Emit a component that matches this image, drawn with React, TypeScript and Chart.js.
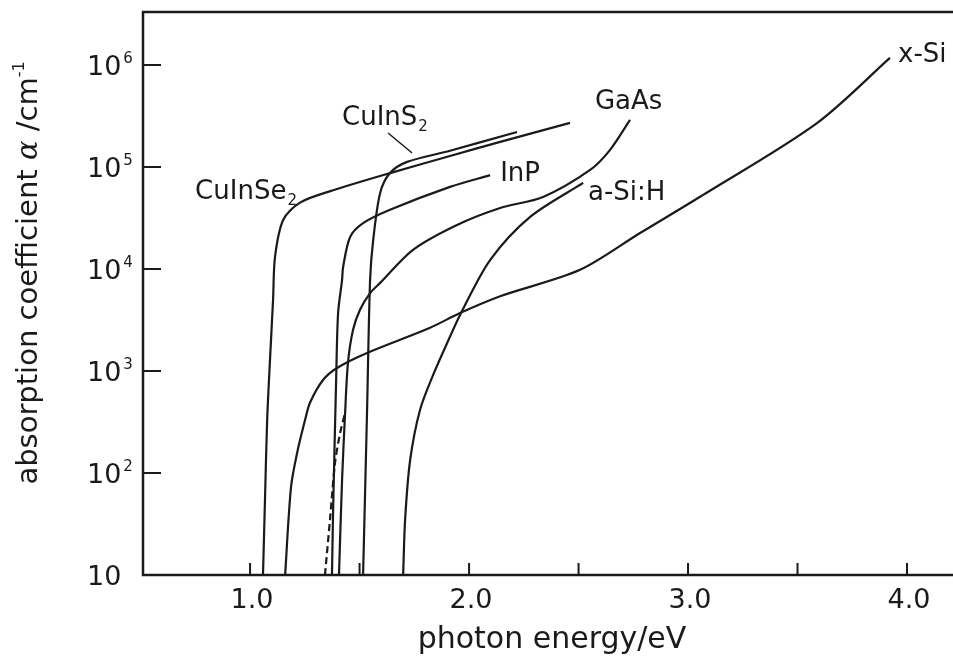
import React, { useEffect, useRef } from "react";
import { Chart, registerables } from "chart.js";

Chart.register(...registerables);

// ---- axes ----
const xMin = 0.511;
const xMax = 4.21;
const yMin = 10;
const yMax = 3.3e6;
const xTickValues = [1.0, 1.5, 2.0, 2.5, 3.0, 3.5, 4.0];
const xTickLabels = ["1.0", "", "2.0", "", "3.0", "", "4.0"];
const yTickValues = [10, 1e2, 1e3, 1e4, 1e5, 1e6];
const yTickBase = ["10", "10", "10", "10", "10", "10"];
const yTickExp = ["", "2", "3", "4", "5", "6"];

// ---- series (photon energy eV, absorption coefficient cm^-1) ----
const cuInSe2E = [1.059, 1.068, 1.078, 1.091, 1.105, 1.114, 1.151, 1.228, 1.379, 1.639, 1.913, 2.142, 2.461];
const cuInSe2A = [10, 54, 330, 1290, 5000, 13200, 30200, 44700, 59000, 87000, 128000, 176000, 270000];

const cuInS2E = [1.516, 1.534, 1.548, 1.562, 1.594, 1.639, 1.717, 1.913, 2.219];
const cuInS2A = [10, 390, 7760, 19000, 55600, 87000, 112000, 144000, 220000];

const inPE = [1.374, 1.379, 1.393, 1.402, 1.42, 1.425, 1.457, 1.516, 1.639, 1.913, 2.096];
const inPA = [10, 41, 815, 3720, 7760, 10500, 20600, 28100, 38000, 63700, 83000];

const gaAsE = [1.406, 1.42, 1.434, 1.447, 1.47, 1.502, 1.548, 1.594, 1.744, 1.945, 2.142, 2.338, 2.553, 2.644, 2.735];
const gaAsA = [10, 85, 390, 1200, 2520, 3980, 5800, 7300, 15400, 27000, 39600, 50800, 93500, 147000, 289000];

const gaAsDashE = [1.342, 1.365, 1.388, 1.411, 1.434];
const gaAsDashA = [10, 35, 126, 245, 390];

const aSiE = [1.699, 1.708, 1.731, 1.776, 1.836, 1.9, 1.959, 2.096, 2.279, 2.521];
const aSiA = [10, 35, 134, 415, 915, 1880, 3540, 12200, 32400, 69700];

const xSiE = [1.16, 1.187, 1.215, 1.251, 1.274, 1.333, 1.397, 1.534, 1.822, 1.959, 2.142, 2.507, 2.781, 3.055, 3.589, 3.922];
const xSiA = [10, 73, 158, 330, 490, 815, 1070, 1500, 2650, 3700, 5400, 9800, 22500, 51000, 269000, 1170000];

// ---- curve labels (position in data units: left edge energy, vertical centre alpha) ----
const labelText = ["CuInSe", "CuInS", "InP", "GaAs", "a-Si:H", "x-Si"];
const labelSub = ["2", "2", "", "", "", ""];
const labelE = [0.749, 1.42, 2.142, 2.575, 2.543, 3.959];
const labelA = [59600, 316000, 89300, 454000, 58200, 1310000];
const pointerE = [1.63, 1.74];
const pointerA = [215000, 137000];

const INK = "#1a1a1a";
const FONT = "'DejaVu Sans', sans-serif";

function pts(e: number[], a: number[]) {
  return e.map((v, i) => ({ x: v, y: a[i] }));
}

const decor = {
  id: "decor",
  afterDatasetsDraw(chart: any) {
    const { ctx, chartArea: ca, scales } = chart;
    const xs = scales.x;
    const ys = scales.y;
    ctx.save();
    ctx.strokeStyle = INK;
    ctx.fillStyle = INK;
    ctx.lineCap = "butt";
    // frame
    ctx.lineWidth = 2.5;
    ctx.beginPath();
    ctx.moveTo(ca.right, ca.top);
    ctx.lineTo(ca.left, ca.top);
    ctx.lineTo(ca.left, ca.bottom);
    ctx.lineTo(ca.right, ca.bottom);
    ctx.stroke();
    // inward ticks
    ctx.lineWidth = 2;
    ctx.beginPath();
    xTickValues.forEach((v) => {
      const px = xs.getPixelForValue(v);
      ctx.moveTo(px, ca.bottom);
      ctx.lineTo(px, ca.bottom - 12);
    });
    yTickValues.forEach((v) => {
      if (v <= yMin) return;
      const py = ys.getPixelForValue(v);
      ctx.moveTo(ca.left, py);
      ctx.lineTo(ca.left + 18, py);
    });
    ctx.stroke();

    // x tick labels
    ctx.font = `27px ${FONT}`;
    ctx.textAlign = "center";
    ctx.textBaseline = "alphabetic";
    xTickValues.forEach((v, i) => {
      if (!xTickLabels[i]) return;
      ctx.fillText(xTickLabels[i], xs.getPixelForValue(v) + 2, ca.bottom + 33);
    });

    // y tick labels with superscripts
    yTickValues.forEach((v, i) => {
      const py = ys.getPixelForValue(v);
      ctx.font = `27px ${FONT}`;
      ctx.textAlign = "left";
      ctx.textBaseline = "alphabetic";
      const bx = 87;
      ctx.fillText(yTickBase[i], bx, py + 10);
      const w = ctx.measureText(yTickBase[i]).width;
      if (yTickExp[i]) {
        ctx.font = `15px ${FONT}`;
        ctx.fillText(yTickExp[i], bx + w + 2, py - 2);
      }
    });

    // x title
    ctx.font = `30px ${FONT}`;
    ctx.textAlign = "center";
    ctx.fillText("photon energy/eV", 552, 648);

    // y title (rotated)
    ctx.save();
    ctx.translate(37, 273);
    ctx.rotate(-Math.PI / 2);
    const segs: [string, string, number][] = [
      ["absorption coefficient ", `29px ${FONT}`, 0],
      ["\u03b1", `italic 29px 'DejaVu Serif', serif`, 0],
      [" /cm", `29px ${FONT}`, 0],
      ["-1", `16px ${FONT}`, -13],
    ];
    let total = 0;
    segs.forEach(([t, f]) => {
      ctx.font = f;
      total += ctx.measureText(t).width;
    });
    let cx = -total / 2;
    ctx.textAlign = "left";
    segs.forEach(([t, f, dy]) => {
      ctx.font = f;
      ctx.fillText(t, cx, dy);
      cx += ctx.measureText(t).width;
    });
    ctx.restore();

    // curve labels
    labelText.forEach((t, i) => {
      const px = xs.getPixelForValue(labelE[i]);
      const py = ys.getPixelForValue(labelA[i]);
      ctx.font = `26px ${FONT}`;
      ctx.textAlign = "left";
      ctx.textBaseline = "alphabetic";
      ctx.fillText(t, px, py + 9);
      if (labelSub[i]) {
        const w = ctx.measureText(t).width;
        ctx.font = `15px ${FONT}`;
        ctx.fillText(labelSub[i], px + w + 1, py + 15);
      }
    });

    // pointer for CuInS2
    ctx.lineWidth = 1.5;
    ctx.beginPath();
    ctx.moveTo(xs.getPixelForValue(pointerE[0]), ys.getPixelForValue(pointerA[0]));
    ctx.lineTo(xs.getPixelForValue(pointerE[1]), ys.getPixelForValue(pointerA[1]));
    ctx.stroke();
    ctx.restore();
  },
};

export default function App() {
  const ref = useRef<HTMLCanvasElement | null>(null);
  useEffect(() => {
    if (!ref.current) return;
    const line = (label: string, e: number[], a: number[], dash: number[] = []) => ({
      label,
      data: pts(e, a),
      borderColor: INK,
      borderWidth: 2.2,
      borderDash: dash,
      pointRadius: 0,
      fill: false,
      tension: 0.3,
    });
    const chart = new Chart(ref.current, {
      type: "line",
      data: {
        datasets: [
          line("CuInSe2", cuInSe2E, cuInSe2A),
          line("CuInS2", cuInS2E, cuInS2A),
          line("InP", inPE, inPA),
          line("GaAs", gaAsE, gaAsA),
          line("GaAs (dashed)", gaAsDashE, gaAsDashA, [7, 4]),
          line("a-Si:H", aSiE, aSiA),
          line("x-Si", xSiE, xSiA),
        ],
      },
      options: {
        responsive: false,
        animation: false,
        devicePixelRatio: 1,
        layout: { padding: { top: 12, left: 0, right: 0, bottom: 0 } },
        plugins: { legend: { display: false }, tooltip: { enabled: false } },
        scales: {
          x: {
            type: "linear",
            min: xMin,
            max: xMax,
            grid: { display: false },
            border: { display: false },
            ticks: { display: false },
            afterFit: (s: any) => {
              s.height = 93;
            },
          },
          y: {
            type: "logarithmic",
            min: yMin,
            max: yMax,
            grid: { display: false },
            border: { display: false },
            ticks: { display: false },
            afterFit: (s: any) => {
              s.width = 143;
            },
          },
        },
      },
      plugins: [decor],
    });
    return () => chart.destroy();
  }, []);
  return (
    <div style={{ position: "absolute", left: 0, top: 0, width: 953, height: 668, background: "#ffffff" }}>
      <canvas ref={ref} width={953} height={668} style={{ display: "block" }} />
    </div>
  );
}
